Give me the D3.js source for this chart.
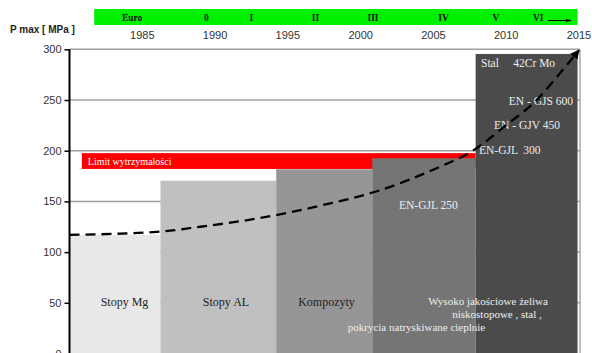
<!DOCTYPE html>
<html><head><meta charset="utf-8">
<script src="https://cdn.jsdelivr.net/npm/d3@7"></script>
<style>body{margin:0;background:#fff}svg{display:block}</style>
</head><body>
<svg id="c" width="592" height="353"></svg>
<script>
// ---- data ----
const yearTicks = [1985, 1990, 1995, 2000, 2005, 2010, 2015];
const yTicks = [0, 50, 100, 150, 200, 250, 300];
const euroLabels = ["Euro", "0", "I", "II", "III", "IV", "V", "VI"];
const euroYears = [1984.3, 1989.4, 1992.5, 1996.9, 2000.85, 2005.7, 2009.3, 2012.2];
const materials = ["Stopy Mg", "Stopy AL", "Kompozyty", "EN-GJL 250", "Stal 42Cr Mo"];
const barStart = [1980, 1986.25, 1994.2, 2000.8, 2007.9];
const barEnd = [1986.25, 1994.2, 2000.8, 2007.9, 2014.9];
const barValue = [117, 170.4, 181.7, 192.5, 295.4];
const limitRange = [182, 197.6];
const limitYears = [1980.85, 2007.9];
const trendYears = [1980, 1986, 1989, 1994.2, 1997.4, 2001, 2005.45, 2007.6, 2010, 2012.1, 2013.7, 2015];
const trendValues = [117, 120, 125, 136.5, 146.4, 159.5, 184.2, 199, 225.3, 250, 276.5, 299];
const steelGrades = ["EN - GJS 600", "EN - GJV 450", "EN-GJL  300"];

// ---- scales ----
const x = d3.scaleLinear().domain([1980, 2015]).range([69.5, 579]);
const y = d3.scaleLinear().domain([0, 300]).range([353.5, 49.3]);
const svg = d3.select("#c");
const serif = "'Liberation Serif','Times New Roman',serif";
const sans = "'Liberation Sans',Arial,sans-serif";

// arrow marker
const defs = svg.append("defs");
defs.append("marker").attr("id","ah").attr("viewBox","0 0 10 10").attr("refX",9).attr("refY",5)
  .attr("markerWidth",4).attr("markerHeight",4).attr("orient","auto")
  .append("path").attr("d","M0,0L10,5L0,10z").attr("fill","#000");
defs.append("marker").attr("id","ah2").attr("viewBox","0 0 10 10").attr("refX",9).attr("refY",5)
  .attr("markerWidth",6).attr("markerHeight",6).attr("orient","auto")
  .append("path").attr("d","M0,2L10,5L0,8z").attr("fill","#000");

// green emission-stage band
svg.append("rect").attr("x", x(1981.7)).attr("y", 9).attr("width", x(2014.9) - x(1981.7)).attr("height", 16).attr("fill", "#00f000");
svg.selectAll(".eu").data(euroLabels).join("text")
  .attr("x", (d, i) => x(euroYears[i])).attr("y", 20.5).attr("text-anchor", "middle")
  .attr("font-family", serif).attr("font-weight", "bold").attr("font-size", 9.5).attr("fill", "#111").text(d => d);
svg.append("line").attr("x1", 548).attr("x2", 571).attr("y1", 20.5).attr("y2", 20.5)
  .attr("stroke", "#000").attr("stroke-width", 1).attr("marker-end", "url(#ah2)");

// y label
svg.append("text").attr("x", 10).attr("y", 33).attr("font-family", sans).attr("font-weight", "bold")
  .attr("font-size", 10).attr("fill", "#222").text("P max [ MPa ]");

// year labels
svg.selectAll(".yr").data(yearTicks).join("text")
  .attr("x", d => x(d)).attr("y", 38.5).attr("text-anchor", "middle")
  .attr("font-family", sans).attr("font-size", 11).attr("fill", "#333").text(d => d);

// grid + frame
svg.selectAll(".grid").data(yTicks.slice(1)).join("line")
  .attr("x1", x(1980)).attr("x2", 580).attr("y1", d => y(d)).attr("y2", d => y(d))
  .attr("stroke", "#a0a0a0").attr("stroke-width", 1.5);
svg.append("line").attr("x1", 580).attr("x2", 580).attr("y1", y(300)).attr("y2", 353)
  .attr("stroke", "#a8a8a8").attr("stroke-width", 1.5);

// limit band
svg.append("rect").attr("x", x(limitYears[0])).attr("width", x(limitYears[1]) - x(limitYears[0]))
  .attr("y", y(limitRange[1])).attr("height", y(limitRange[0]) - y(limitRange[1])).attr("fill", "#ff0000");
svg.append("text").attr("x", x(limitYears[0]) + 6).attr("y", 165).attr("font-family", serif)
  .attr("font-size", 10).attr("fill", "#fff").text("Limit wytrzymałości");

// bars
const colors = ["#e8e8e8", "#c0c0c0", "#969696", "#757575", "#4b4b4b"];
svg.selectAll(".bar").data(materials).join("rect")
  .attr("x", (d, i) => x(barStart[i])).attr("width", (d, i) => x(barEnd[i]) - x(barStart[i]))
  .attr("y", (d, i) => y(barValue[i])).attr("height", (d, i) => y(0) - y(barValue[i]))
  .attr("fill", (d, i) => colors[i]);

// bar labels
const dark = "#222";
svg.selectAll(".bl").data(materials.slice(0, 3)).join("text")
  .attr("x", (d, i) => [124.5, 226, 326.5][i]).attr("y", 306).attr("text-anchor", "middle")
  .attr("font-family", serif).attr("font-size", 12).attr("fill", dark).text(d => d);
const light = "#ececec";
svg.append("text").attr("x", 399).attr("y", 209).attr("font-family", serif).attr("font-size", 11.5)
  .attr("fill", light).text(materials[3]);
svg.append("text").attr("x", 481).attr("y", 67).attr("font-family", serif).attr("font-size", 11.5)
  .attr("fill", light).attr("xml:space","preserve").text("Stal     42Cr Mo");
svg.selectAll(".sg").data(steelGrades).join("text")
  .attr("x", (d, i) => [573, 494, 479][i]).attr("y", (d, i) => [104.5, 129, 154][i])
  .attr("text-anchor", (d, i) => i === 0 ? "end" : "start")
  .attr("font-family", serif).attr("font-size", 11.5).attr("fill", light).attr("xml:space","preserve").text(d => d);
const ml = ["Wysoko jakościowe żeliwa", "niskostopowe , stal ,", "pokrycia natryskiwane cieplnie"];
svg.selectAll(".ml").data(ml).join("text")
  .attr("x", (d, i) => [488, 497, 416.5][i]).attr("y", (d, i) => [304.5, 317.5, 330.5][i])
  .attr("text-anchor", "middle").attr("font-family", serif).attr("font-size", 11)
  .attr("fill", "#eeeeee").text(d => d);

// trend curve
const line = d3.line().x((d, i) => x(trendYears[i])).y(d => y(d)).curve(d3.curveMonotoneX);
svg.append("path").attr("d", line(trendValues)).attr("fill", "none").attr("stroke", "#000")
  .attr("stroke-width", 2.3).attr("stroke-dasharray", "10,6").attr("marker-end", "url(#ah)");

// left axis
const ax = svg.append("g").attr("transform", `translate(${x(1980)},0)`)
  .call(d3.axisLeft(y).tickValues(yTicks).tickSize(5).tickPadding(3));
ax.select(".domain").attr("stroke", "#000").attr("stroke-width", 2).attr("d", `M0,${y(300)}V${y(0)}`);
ax.selectAll(".tick line").attr("stroke", "#000").attr("stroke-width", 1.5);
ax.selectAll(".tick text").attr("font-family", sans).attr("font-size", 11).attr("fill", "#333");
</script>
</body></html>
